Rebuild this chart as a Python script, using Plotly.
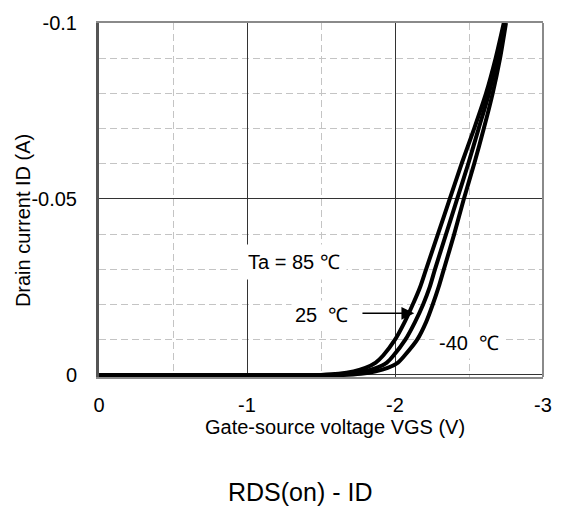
import plotly.graph_objects as go

# ---- data (VGS in V, ID in A; both negative on the chart) ----
id_pts = [0, 0, -0.0003, -0.001, -0.002, -0.0035, -0.0055, -0.01, -0.015, -0.02, -0.025, -0.03,
          -0.04, -0.05, -0.06, -0.07, -0.08, -0.09, -0.10]

vgs_85 = [0, -1.50, -1.62, -1.72, -1.80, -1.87, -1.92, -2.00, -2.065, -2.12, -2.17, -2.21,
          -2.29, -2.37, -2.45, -2.535, -2.615, -2.68, -2.735]
id_85 = id_pts

vgs_25 = [0, -1.575, -1.695, -1.795, -1.875, -1.945, -1.99, -2.07, -2.135, -2.19, -2.235, -2.27,
          -2.345, -2.42, -2.495, -2.565, -2.635, -2.69, -2.74]
id_25 = id_pts

vgs_m40 = [0, -1.65, -1.77, -1.87, -1.95, -2.02, -2.065, -2.15, -2.21, -2.255, -2.295, -2.33,
           -2.40, -2.465, -2.535, -2.60, -2.66, -2.71, -2.75]
id_m40 = id_pts

x_tickvals = [0, -1, -2, -3]
x_ticktext = ["0", "-1", "-2", "-3"]
y_tickvals = [0, -0.05, -0.1]
y_ticktext = ["0", "-0.05", "-0.1"]

FONT = "Arial, Liberation Sans, sans-serif"
W, H = 564, 511
L, R, T, B = 99, 17, 13, 134

def px(xp, yp):
    # page pixel -> paper coords
    return (xp - L) / (W - L - R), (H - B - yp) / (H - T - B)

fig = go.Figure()
for vx, iy in [(vgs_85, id_85), (vgs_25, id_25), (vgs_m40, id_m40)]:
    fig.add_trace(go.Scatter(x=vx, y=iy, mode="lines",
                             line=dict(color="black", width=4, shape="spline", smoothing=0.7),
                             showlegend=False, hoverinfo="skip"))

grid_major = "#333333"
grid_minor = "#c4c4c4"

fig.update_xaxes(range=[0, -3], tickvals=x_tickvals, ticktext=x_ticktext,
                 showgrid=True, gridcolor=grid_major, gridwidth=1,
                 minor=dict(dtick=0.5, tick0=0, showgrid=True, gridcolor=grid_minor,
                            griddash="7px,4px", gridwidth=1),
                 zeroline=False, showline=True, mirror=True, linecolor="#8a8a8a", linewidth=2,
                 layer="below traces", ticks="",
                 ticklabelstandoff=9, ticklabeloverflow="allow",
                 tickfont=dict(family=FONT, size=20, color="black"))
fig.update_yaxes(range=[0.0006, -0.1], tickvals=y_tickvals, ticktext=y_ticktext,
                 showgrid=True, gridcolor=grid_major, gridwidth=1,
                 minor=dict(dtick=0.01, tick0=0, showgrid=True, gridcolor=grid_minor,
                            griddash="7px,4px", gridwidth=1),
                 zeroline=False, showline=True, mirror=False, linecolor="#555555", linewidth=3,
                 layer="below traces", ticks="",
                 ticklabelstandoff=15, ticklabeloverflow="allow",
                 tickfont=dict(family=FONT, size=20, color="black"))

shapes = [
    dict(type="line", xref="x domain", yref="y domain", x0=1, x1=1, y0=0, y1=1,
         line=dict(color="#8a8a8a", width=2)),
]

anns = []
def label(text, xp, yp, size=20, bg=None, pad=2):
    xx, yy = px(xp, yp)
    d = dict(text=text, x=xx, y=yy, xref="paper", yref="paper", showarrow=False,
             xanchor="center", yanchor="middle",
             font=dict(family=FONT, size=size, color="black"), borderpad=pad)
    if bg:
        d["bgcolor"] = bg
    anns.append(d)

label("Ta = 85 \u2103", 296, 259, bg="white", pad=6)
label("25\u00a0 \u2103", 324, 313, bg="white", pad=3)
label("-40\u00a0 \u2103", 472, 342, bg="white", pad=4)
label("Gate-source voltage VGS (V)", 337, 428, size=20)
label("RDS(on) - ID", 302, 495, size=25)

ax_t, ay_t = px(23, 216)
anns.append(dict(text="Drain current ID (A)", x=ax_t, y=ay_t, xref="paper", yref="paper",
                 showarrow=False, textangle=-90, xanchor="center", yanchor="middle",
                 font=dict(family=FONT, size=20, color="black")))

# arrow pointing at the 25 degC curve
anns.append(dict(text="", x=-2.13, y=-0.0175, ax=-1.77, ay=-0.0175,
                 xref="x", yref="y", axref="x", ayref="y", showarrow=True,
                 arrowhead=2, arrowsize=1.6, arrowwidth=1.6, arrowcolor="black"))

fig.update_layout(width=W, height=H, margin=dict(l=L, r=R, t=T, b=B),
                  paper_bgcolor="white", plot_bgcolor="white",
                  shapes=shapes, annotations=anns, showlegend=False)

fig.write_html("out.html", config={"displayModeBar": False},
               post_script="document.body.style.margin='0px';")
